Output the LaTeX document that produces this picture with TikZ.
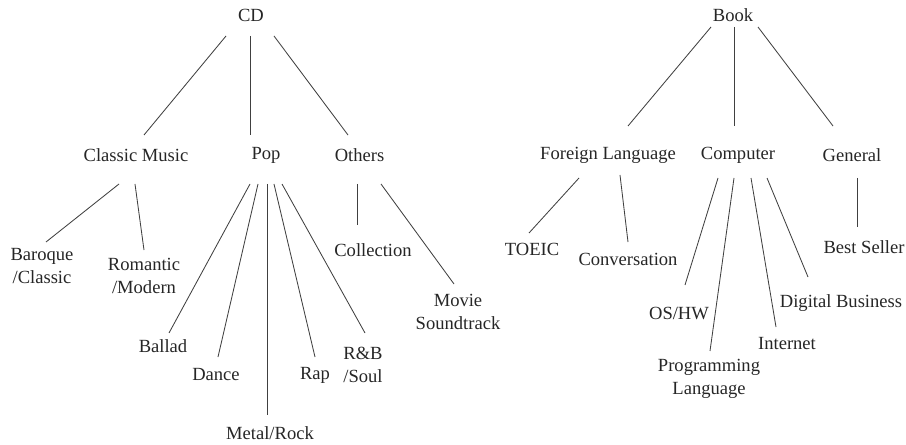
\documentclass[tikz,border=0pt]{standalone}
\usepackage{fontspec}
\setmainfont{Liberation Serif}
\usepackage{tikz}

\begin{document}
\begin{tikzpicture}[x=0.025cm, y=-0.025cm,
    lbl/.style={align=center, inner sep=0pt, text=black!85, font=\fontsize{13.2}{16}\selectfont},
    branch/.style={draw=black!75, line width=0.6pt}]
    \useasboundingbox (0,0) rectangle (906,445);
    % CD tree
    \node[lbl] (cd) at (251,15) {CD};
    \node[lbl] (classic) at (136,155) {Classic Music};
    \node[lbl] (pop) at (266,155) {Pop};
    \node[lbl] (others) at (359.5,155) {Others};
    \node[lbl] (baroque) at (42,266) {Baroque\\/Classic};
    \node[lbl] (romantic) at (144,276) {Romantic\\/Modern};
    \node[lbl] (ballad) at (163,346) {Ballad};
    \node[lbl] (dance) at (216,375) {Dance};
    \node[lbl] (metal) at (270,433) {Metal/Rock};
    \node[lbl] (rap) at (315,375) {Rap};
    \node[lbl] (rnb) at (363,365) {R\&B\\/Soul};
    \node[lbl] (collection) at (373,250) {Collection};
    \node[lbl] (movie) at (458,312) {Movie\\Soundtrack};

    \draw[branch] ([shift={(-25,21)}]cd.center) -- ([shift={(8,-20)}]classic.center);
    \draw[branch] ([shift={(-1,21)}]cd.center) -- ([shift={(-16,-20)}]pop.center);
    \draw[branch] ([shift={(23,21)}]cd.center) -- ([shift={(-11.5,-20)}]others.center);
    \draw[branch] ([shift={(-17,29)}]classic.center) -- ([shift={(4,-24)}]baroque.center);
    \draw[branch] ([shift={(-1,29)}]classic.center) -- ([shift={(0,-26)}]romantic.center);
    \draw[branch] ([shift={(-16,29)}]pop.center) -- ([shift={(6,-13)}]ballad.center);
    \draw[branch] ([shift={(-8,29)}]pop.center) -- ([shift={(2,-18)}]dance.center);
    \draw[branch] ([shift={(1,29)}]pop.center) -- ([shift={(-3,-18)}]metal.center);
    \draw[branch] ([shift={(8,29)}]pop.center) -- ([shift={(0,-18)}]rap.center);
    \draw[branch] ([shift={(16,29)}]pop.center) -- ([shift={(2,-32)}]rnb.center);
    \draw[branch] ([shift={(-2.5,29)}]others.center) -- ([shift={(-16,-25)}]collection.center);
    \draw[branch] ([shift={(21.5,29)}]others.center) -- ([shift={(-4,-28)}]movie.center);

    % Book tree
    \node[lbl] (book) at (733,15) {Book};
    \node[lbl] (foreign) at (608,155) {Foreign Language};
    \node[lbl] (computer) at (738,155) {Computer};
    \node[lbl] (general) at (852,155) {General};
    \node[lbl] (toeic) at (532,249) {TOEIC};
    \node[lbl] (conversation) at (628,259) {Conversation};
    \node[lbl] (oshw) at (679,313) {OS/HW};
    \node[lbl] (programming) at (709,379) {Programming\\Language};
    \node[lbl] (internet) at (787,344) {Internet};
    \node[lbl] (digital) at (841,303) {Digital Business};
    \node[lbl] (bestseller) at (864,247) {Best Seller};

    \draw[branch] ([shift={(-22,12)}]book.center) -- ([shift={(20,-29)}]foreign.center);
    \draw[branch] ([shift={(1,12)}]book.center) -- ([shift={(-4,-29)}]computer.center);
    \draw[branch] ([shift={(25,12)}]book.center) -- ([shift={(-19,-29)}]general.center);
    \draw[branch] ([shift={(-29,23)}]foreign.center) -- ([shift={(-3,-16)}]toeic.center);
    \draw[branch] ([shift={(12,20)}]foreign.center) -- ([shift={(0,-17)}]conversation.center);
    \draw[branch] ([shift={(-20,23)}]computer.center) -- ([shift={(6,-28)}]oshw.center);
    \draw[branch] ([shift={(-4,23)}]computer.center) -- ([shift={(1,-28)}]programming.center);
    \draw[branch] ([shift={(13,23)}]computer.center) -- ([shift={(-11,-17)}]internet.center);
    \draw[branch] ([shift={(29,23)}]computer.center) -- ([shift={(-33,-26)}]digital.center);
    \draw[branch] ([shift={(5,23)}]general.center) -- ([shift={(-7,-20)}]bestseller.center);
\end{tikzpicture}
\end{document}
